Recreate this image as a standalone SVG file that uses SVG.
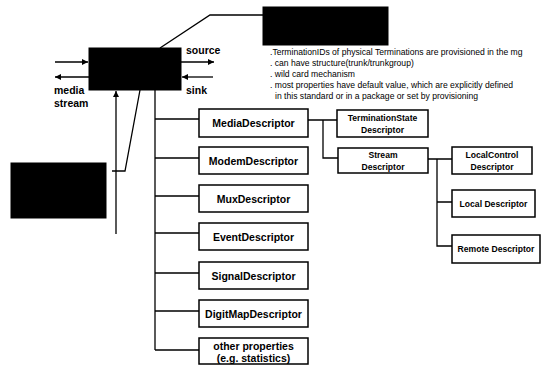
<svg xmlns="http://www.w3.org/2000/svg" width="546" height="368" viewBox="0 0 546 368">
<defs>
<marker id="ah" viewBox="0 0 10 10" refX="10" refY="5" markerWidth="7" markerHeight="6" markerUnits="userSpaceOnUse" orient="auto">
<path d="M0,0 L10,5 L0,10 z" fill="#000"/>
</marker>
<style>
.bx{fill:#fff;stroke:#000;stroke-width:1.5}
.blk{fill:#000;stroke:#000}
.ln{fill:none;stroke:#000;stroke-width:1.3}
.t{font-family:"Liberation Sans",Arial,sans-serif;font-weight:bold;font-size:10.5px;fill:#000;text-anchor:middle}
.ts{font-family:"Liberation Sans",Arial,sans-serif;font-weight:bold;font-size:8.6px;fill:#000;text-anchor:middle}
.lb{font-family:"Liberation Sans",Arial,sans-serif;font-weight:bold;font-size:10.5px;fill:#000}
.note{font-family:"Liberation Sans",Arial,sans-serif;font-size:8.6px;fill:#000}
</style>
</defs>
<g id="connectors">
<path class="ln" d="M55,62 H88" marker-end="url(#ah)"/>
<path class="ln" d="M89,77 H55" marker-end="url(#ah)"/>
<path class="ln" d="M181,62 H214" marker-end="url(#ah)"/>
<path class="ln" d="M213,77 H182" marker-end="url(#ah)"/>
<path class="ln" d="M160,48 L210,15 H263"/>
<path class="ln" d="M116,234 V91" marker-end="url(#ah)"/>
<path class="ln" d="M140,90 L125,171 H112"/>
<path class="ln" d="M155,90 V350"/>
<path class="ln" d="M155,119 H199 M155,158 H199 M155,196 H199 M155,233 H199 M155,273 H199 M155,311 H199 M155,350 H199"/>
<path class="ln" d="M308,120 H337 M323,120 V158 H338"/>
<path class="ln" d="M428,159 H452 M437,159 V246 H452 M437,202 H452"/>
</g>
<g id="termination">
<rect class="blk" x="89" y="48" width="92" height="42"/>
</g>
<g id="termination-id">
<rect class="blk" x="263" y="7" width="125" height="38"/>
</g>
<g id="properties-note">
<rect class="blk" x="11" y="163" width="95" height="55"/>
</g>
<g id="labels">
<text class="lb" x="186" y="54">source</text>
<text class="lb" x="186" y="94">sink</text>
<text class="lb" x="54" y="94">media</text>
<text class="lb" x="54" y="107">stream</text>
</g>
<g id="note-text">
<text class="note" x="270" y="55">.TerminationIDs of physical Terminations are provisioned in the mg</text>
<text class="note" x="270" y="66">. can have structure(trunk/trunkgroup)</text>
<text class="note" x="270" y="77">. wild card mechanism</text>
<text class="note" x="270" y="88">. most properties have default value, which are explicitly defined</text>
<text class="note" x="275" y="98.5">in this standard or in a package or set by provisioning</text>
</g>
<g id="media"><rect class="bx" x="199" y="109" width="109" height="28"/><text class="t" x="253.5" y="127">MediaDescriptor</text></g>
<g id="modem"><rect class="bx" x="199" y="147" width="109" height="27"/><text class="t" x="253.5" y="164.5">ModemDescriptor</text></g>
<g id="mux"><rect class="bx" x="199" y="185" width="109" height="27"/><text class="t" x="253.5" y="202.5">MuxDescriptor</text></g>
<g id="event"><rect class="bx" x="199" y="223" width="109" height="27"/><text class="t" x="253.5" y="240.5">EventDescriptor</text></g>
<g id="signal"><rect class="bx" x="199" y="262" width="109" height="27"/><text class="t" x="253.5" y="279.5">SignalDescriptor</text></g>
<g id="digitmap"><rect class="bx" x="199" y="300" width="109" height="27"/><text class="t" x="253.5" y="317.5">DigitMapDescriptor</text></g>
<g id="other"><rect class="bx" x="199" y="338" width="109" height="26"/><text class="t" x="253.5" y="350">other properties</text><text class="t" x="253.5" y="362">(e.g. statistics)</text></g>
<g id="termstate"><rect class="bx" x="337" y="110" width="91" height="27"/><text class="ts" x="382.5" y="121">TerminationState</text><text class="ts" x="382.5" y="133">Descriptor</text></g>
<g id="stream"><rect class="bx" x="338" y="148" width="90" height="25"/><text class="ts" x="383" y="158">Stream</text><text class="ts" x="383" y="170">Descriptor</text></g>
<g id="localcontrol"><rect class="bx" x="452" y="147" width="80" height="27"/><text class="ts" x="492" y="158">LocalControl</text><text class="ts" x="492" y="170">Descriptor</text></g>
<g id="local"><rect class="bx" x="452" y="190" width="83" height="27"/><text class="ts" x="493.5" y="206.5">Local Descriptor</text></g>
<g id="remote"><rect class="bx" x="452" y="235" width="88" height="28"/><text class="ts" x="496" y="252">Remote Descriptor</text></g>
</svg>
